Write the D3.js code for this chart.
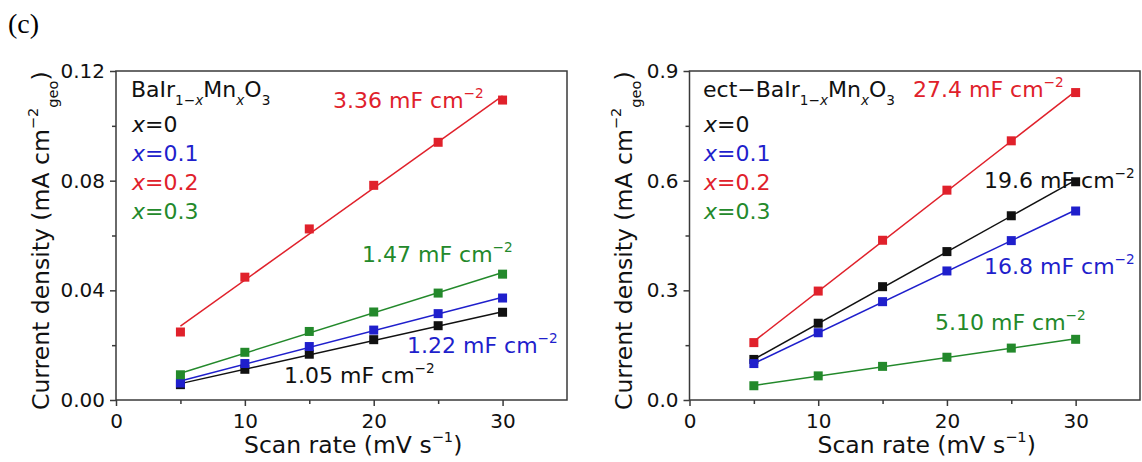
<!DOCTYPE html>
<html>
<head>
<meta charset="utf-8">
<script src="https://cdn.jsdelivr.net/npm/d3@7"></script>
<style>
  html, body { margin: 0; padding: 0; background: #fff; }
  svg { display: block; font-family: "DejaVu Sans", sans-serif; }
</style>
</head>
<body>
<svg id="chart" width="1142" height="462"></svg>
<script>
// ---- data ----------------------------------------------------------
const scanRates = [5, 10, 15, 20, 25, 30];           // mV s^-1
const xTickValues = [0, 10, 20, 30];
const xMinorTicks = [5, 15, 25];
const compositionLabels = ["0", "0.1", "0.2", "0.3"]; // x in BaIr1-xMnxO3
const seriesColors = ["#111111", "#1f1fcc", "#e0212b", "#23892b"];

// as-prepared BaIr1-xMnxO3 (mA cm^-2_geo)
const bimX0  = [0.0056, 0.0112, 0.0167, 0.0220, 0.0271, 0.0320];
const bimX01 = [0.0062, 0.0133, 0.0195, 0.0255, 0.0315, 0.0372];
const bimX02 = [0.0248, 0.0448, 0.0624, 0.0783, 0.0940, 0.1094];
const bimX03 = [0.0092, 0.0174, 0.0250, 0.0321, 0.0390, 0.0459];
const bimCdl = ["1.05", "1.22", "3.36", "1.47"];     // mF cm^-2
const bimYTicks = [0, 0.04, 0.08, 0.12];
const bimYMinor = [0.02, 0.06, 0.10];
const bimYTickLabels = ["0.00", "0.04", "0.08", "0.12"];

// electrochemically treated ect-BaIr1-xMnxO3 (mA cm^-2_geo)
const ectX0  = [0.111, 0.210, 0.310, 0.406, 0.504, 0.597];
const ectX01 = [0.0997, 0.184, 0.269, 0.353, 0.436, 0.517];
const ectX02 = [0.157, 0.298, 0.437, 0.574, 0.709, 0.841];
const ectX03 = [0.039, 0.066, 0.092, 0.117, 0.142, 0.166];
const ectCdl = ["19.6", "16.8", "27.4", "5.10"];     // mF cm^-2
const ectYTicks = [0, 0.3, 0.6, 0.9];
const ectYMinor = [0.15, 0.45, 0.75];
const ectYTickLabels = ["0.0", "0.3", "0.6", "0.9"];

// ---- layout --------------------------------------------------------
const FONT_TICK = 20, FONT_TITLE = 23.5, FONT_NOTE = 22, FONT_LEG = 22;

const panels = [
  {
    left: 116, right: 567, top: 71, bottom: 400, yMax: 0.12,
    series: [bimX0, bimX01, bimX02, bimX03], cdl: bimCdl,
    yTicks: bimYTicks, yMinor: bimYMinor, yLabels: bimYTickLabels,
    prefix: "",
    legendX: 131,
    // annotation anchors (px, baseline-left) for x=0, 0.1, 0.2, 0.3
    notes: [[284, 383], [407, 353], [333, 108], [362, 262]],
    yTitleX: 49
  },
  {
    left: 689.5, right: 1140, top: 71, bottom: 400, yMax: 0.9,
    series: [ectX0, ectX01, ectX02, ectX03], cdl: ectCdl,
    yTicks: ectYTicks, yMinor: ectYMinor, yLabels: ectYTickLabels,
    prefix: "ect\u2212",
    legendX: 703,
    notes: [[984, 188], [984, 274], [913, 97], [935, 330]],
    yTitleX: 632
  }
];
const legendBaselines = [97, 132, 161, 190, 219];

const svg = d3.select("#chart");

// text with sub/superscript runs
function rich(sel, parts, size) {
  let shift = 0;
  parts.forEach(p => {
    const target = p.sub ? size * 0.38 : p.sup ? -size * 0.45 : 0;
    const ts = sel.append("tspan").text(p.t).attr("dy", target - shift);
    if (p.sub || p.sup) ts.attr("font-size", size * 0.62);
    if (p.it) ts.attr("font-style", "italic");
    if (p.dx) ts.attr("dx", p.dx);
    shift = target;
  });
  return sel;
}

// panel label
svg.append("text")
  .attr("x", 8).attr("y", 33)
  .attr("font-family", "'Liberation Serif', serif")
  .attr("font-size", 28)
  .text("(c)");

panels.forEach(P => {
  const x = d3.scaleLinear().domain([0, 35]).range([P.left, P.right]);
  const y = d3.scaleLinear().domain([0, P.yMax]).range([P.bottom, P.top]);
  const g = svg.append("g");

  // frame
  g.append("rect")
    .attr("x", P.left).attr("y", P.top)
    .attr("width", P.right - P.left).attr("height", P.bottom - P.top)
    .attr("fill", "none").attr("stroke", "#3a3a3a").attr("stroke-width", 1.5);

  // axes
  const styleAxis = a => {
    a.select(".domain").remove();
    a.selectAll("line").attr("stroke", "#3a3a3a").attr("stroke-width", 1.5);
    a.selectAll("text").attr("font-family", "DejaVu Sans").attr("font-size", FONT_TICK).attr("fill", "#111");
  };
  g.append("g").attr("transform", `translate(0,${P.bottom})`)
    .call(d3.axisBottom(x).tickValues(xTickValues).tickSize(6).tickPadding(8).tickFormat(d3.format("d")))
    .call(styleAxis);
  g.append("g").attr("transform", `translate(0,${P.bottom})`)
    .call(d3.axisBottom(x).tickValues(xMinorTicks).tickSize(4).tickFormat(""))
    .call(styleAxis);
  g.append("g").attr("transform", `translate(${P.left},0)`)
    .call(d3.axisLeft(y).tickValues(P.yTicks).tickSize(6).tickPadding(5)
      .tickFormat((d, i) => P.yLabels[i]))
    .call(styleAxis);
  g.append("g").attr("transform", `translate(${P.left},0)`)
    .call(d3.axisLeft(y).tickValues(P.yMinor).tickSize(4).tickFormat(""))
    .call(styleAxis);

  // axis titles
  rich(g.append("text")
      .attr("x", P.left + 128).attr("y", 453)
      .attr("font-size", FONT_TITLE).attr("fill", "#111"),
    [{ t: "Scan rate (mV s" }, { t: "\u22121", sup: true }, { t: ")" }], FONT_TITLE);

  rich(g.append("text")
      .attr("transform", `translate(${P.yTitleX},410) rotate(-90)`)
      .attr("font-size", FONT_TITLE).attr("fill", "#111"),
    [{ t: "Current density (mA cm" }, { t: "\u22122", sup: true },
     { t: "geo", sub: true }, { t: ")" }], FONT_TITLE);

  // series: straight line with the stated Cdl slope, plus measured points
  P.series.forEach((vals, i) => {
    const slope = parseFloat(P.cdl[i]) / 1000;       // mA cm^-2 per mV s^-1
    const mx = d3.mean(scanRates), my = d3.mean(vals);
    const b = my - slope * mx;
    const xs = [scanRates[0], scanRates[scanRates.length - 1]];
    g.append("path")
      .datum(xs)
      .attr("d", d3.line().x(d => x(d)).y(d => y(slope * d + b)))
      .attr("fill", "none").attr("stroke", seriesColors[i]).attr("stroke-width", 1.5);
  });
  P.series.forEach((vals, i) => {
    g.append("g").selectAll("rect")
      .data(vals.map((v, k) => [scanRates[k], v]))
      .join("rect")
      .attr("x", d => x(d[0]) - 4.5).attr("y", d => y(d[1]) - 4.5)
      .attr("width", 9).attr("height", 9)
      .attr("fill", seriesColors[i]);
  });

  // legend
  rich(g.append("text").attr("x", P.legendX).attr("y", legendBaselines[0])
      .attr("font-size", FONT_LEG).attr("fill", "#111"),
    [{ t: P.prefix + "BaIr" }, { t: "1\u2212", sub: true }, { t: "x", sub: true, it: true },
     { t: "Mn" }, { t: "x", sub: true, it: true }, { t: "O" }, { t: "3", sub: true }], FONT_LEG);
  compositionLabels.forEach((c, i) => {
    g.append("text").attr("x", P.legendX + 1).attr("y", legendBaselines[i + 1])
      .attr("font-size", FONT_LEG).attr("fill", seriesColors[i])
      .call(t => t.append("tspan").attr("font-style", "italic").text("x"))
      .call(t => t.append("tspan").text("=" + c));
  });

  // Cdl annotations
  P.cdl.forEach((c, i) => {
    rich(g.append("text").attr("x", P.notes[i][0]).attr("y", P.notes[i][1])
        .attr("font-size", FONT_NOTE).attr("fill", seriesColors[i]),
      [{ t: c + " mF cm" }, { t: "\u22122", sup: true }], FONT_NOTE);
  });
});
</script>
</body>
</html>
